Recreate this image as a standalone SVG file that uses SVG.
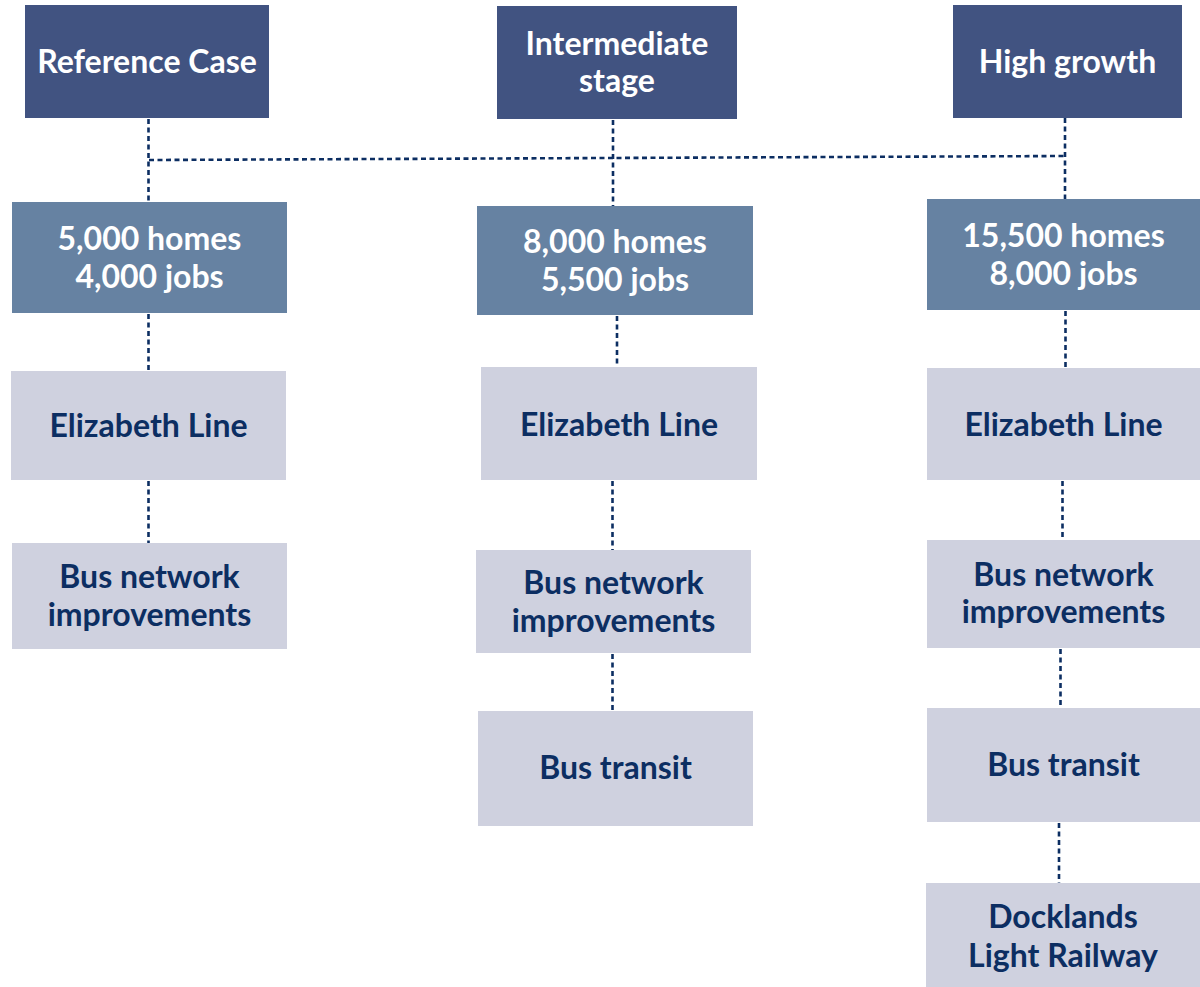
<svg xmlns="http://www.w3.org/2000/svg" width="1200" height="987" viewBox="0 0 1200 987">
  <style>
    .scenario { fill: #415381; }
    .growth { fill: #6682a2; }
    .measure { fill: #cfd1df; }
    text { font-family: Lato, "Open Sans", "Liberation Sans", sans-serif; font-weight: bold; font-size: 32px; text-anchor: middle; }
    .light { fill: #ffffff; }
    .dark { fill: #0c2e62; }
    .link { fill: none; stroke: #0c2e62; stroke-width: 2.6; stroke-dasharray: 5 3.5; }
  </style>
  <rect width="1200" height="987" fill="#ffffff"/>

  <!-- connectors -->
  <g id="connectors">
    <path class="link" d="M148.5 119 V202"/>
    <path class="link" d="M149 160 L1065 156"/>
    <path class="link" d="M613 120 V206"/>
    <path class="link" d="M1065 118 V199"/>
    <path class="link" d="M148.5 314 V371"/>
    <path class="link" d="M148.5 481 V543"/>
    <path class="link" d="M617 316 V367"/>
    <path class="link" d="M612.5 481 V550"/>
    <path class="link" d="M612.5 654 V711"/>
    <path class="link" d="M1065.5 311 V368"/>
    <path class="link" d="M1062.5 481 V540"/>
    <path class="link" d="M1060.5 649 V708"/>
    <path class="link" d="M1059 823 V883"/>
  </g>

  <!-- Reference Case column -->
  <g id="reference-case">
    <rect class="scenario" x="25" y="5" width="244" height="113"/>
    <text class="light" x="147" y="73">Reference Case</text>
  </g>
  <g id="reference-growth">
    <rect class="growth" x="12" y="202" width="275" height="111"/>
    <text class="light" x="149.5" y="250">5,000 homes</text>
    <text class="light" x="149.5" y="288">4,000 jobs</text>
  </g>
  <g id="reference-elizabeth">
    <rect class="measure" x="11" y="371" width="275" height="109"/>
    <text class="dark" x="148.5" y="437">Elizabeth Line</text>
  </g>
  <g id="reference-bus-network">
    <rect class="measure" x="12" y="543" width="275" height="106"/>
    <text class="dark" x="149.5" y="588">Bus network</text>
    <text class="dark" x="149.5" y="626">improvements</text>
  </g>

  <!-- Intermediate stage column -->
  <g id="intermediate-stage">
    <rect class="scenario" x="497" y="6" width="240" height="113"/>
    <text class="light" x="617" y="55">Intermediate</text>
    <text class="light" x="617" y="92">stage</text>
  </g>
  <g id="intermediate-growth">
    <rect class="growth" x="477" y="206" width="276" height="109"/>
    <text class="light" x="615" y="253">8,000 homes</text>
    <text class="light" x="615" y="291">5,500 jobs</text>
  </g>
  <g id="intermediate-elizabeth">
    <rect class="measure" x="481" y="367" width="276" height="113"/>
    <text class="dark" x="619" y="436">Elizabeth Line</text>
  </g>
  <g id="intermediate-bus-network">
    <rect class="measure" x="476" y="550" width="275" height="103"/>
    <text class="dark" x="613.5" y="594">Bus network</text>
    <text class="dark" x="613.5" y="632">improvements</text>
  </g>
  <g id="intermediate-bus-transit">
    <rect class="measure" x="478" y="711" width="275" height="115"/>
    <text class="dark" x="615.5" y="779">Bus transit</text>
  </g>

  <!-- High growth column -->
  <g id="high-growth">
    <rect class="scenario" x="953" y="5" width="229" height="113"/>
    <text class="light" x="1067.5" y="73">High growth</text>
  </g>
  <g id="high-growth-figures">
    <rect class="growth" x="927" y="199" width="273" height="111"/>
    <text class="light" x="1063.5" y="247">15,500 homes</text>
    <text class="light" x="1063.5" y="285">8,000 jobs</text>
  </g>
  <g id="high-elizabeth">
    <rect class="measure" x="927" y="368" width="273" height="112"/>
    <text class="dark" x="1063.5" y="436">Elizabeth Line</text>
  </g>
  <g id="high-bus-network">
    <rect class="measure" x="927" y="540" width="273" height="108"/>
    <text class="dark" x="1063.5" y="586">Bus network</text>
    <text class="dark" x="1063.5" y="623">improvements</text>
  </g>
  <g id="high-bus-transit">
    <rect class="measure" x="927" y="708" width="273" height="114"/>
    <text class="dark" x="1063.5" y="776">Bus transit</text>
  </g>
  <g id="high-dlr">
    <rect class="measure" x="926" y="883" width="274" height="104"/>
    <text class="dark" x="1063" y="928">Docklands</text>
    <text class="dark" x="1063" y="967">Light Railway</text>
  </g>
</svg>
